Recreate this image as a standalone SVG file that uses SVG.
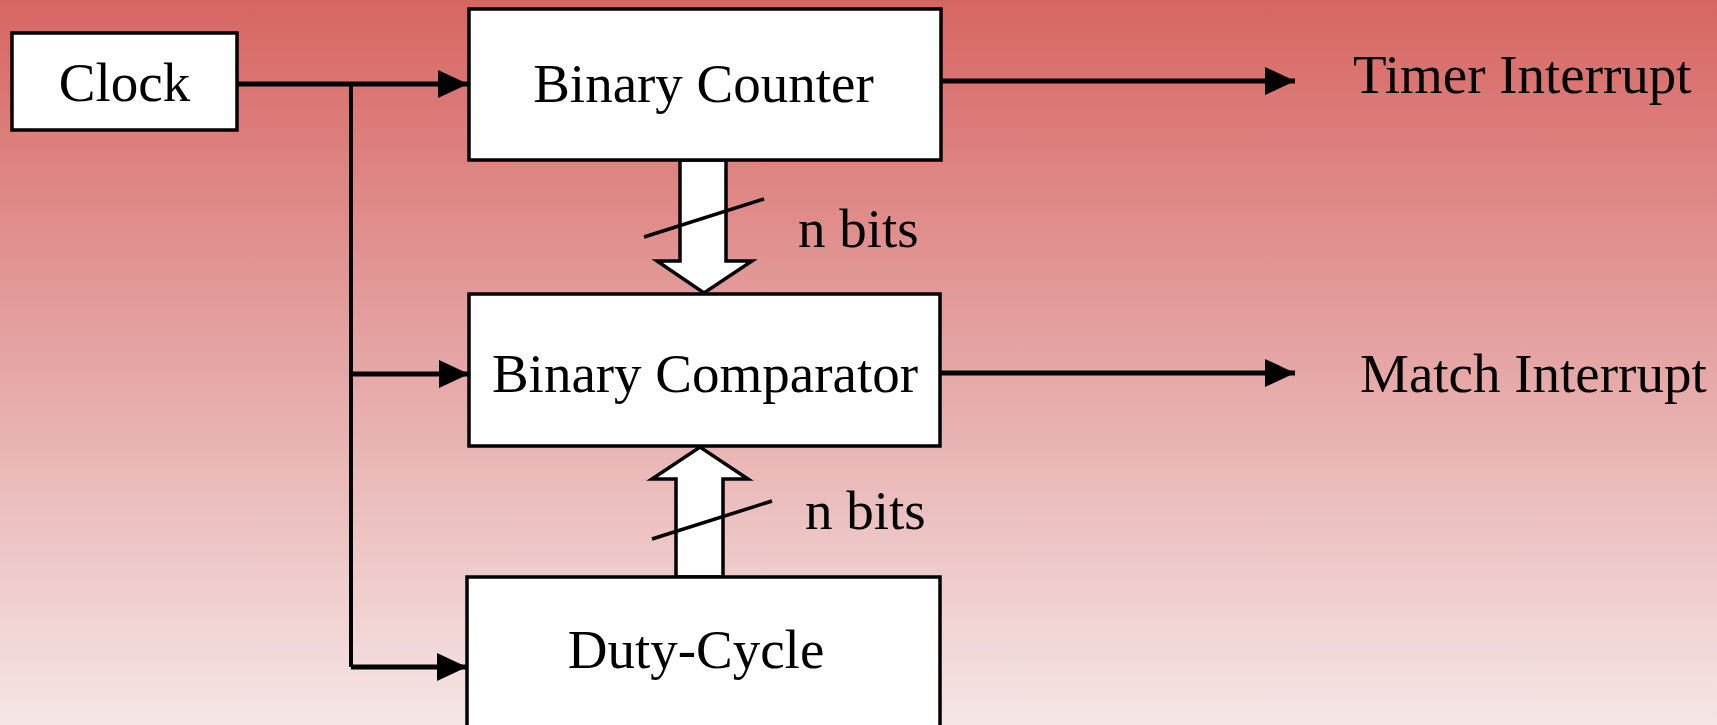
<svg xmlns="http://www.w3.org/2000/svg" width="1717" height="725" viewBox="0 0 1717 725">
  <style>
    .box { fill: #ffffff; stroke: #000000; stroke-width: 3.5; }
    .label { font-family: "Liberation Serif", "Times New Roman", serif; font-size: 55px; fill: #000000; }
    .wire { stroke: #000000; stroke-width: 5; fill: none; }
    .trunk { stroke: #000000; stroke-width: 4; fill: none; }
    .bus { fill: #ffffff; stroke: #000000; stroke-width: 3.5; stroke-linejoin: miter; }
    .slash { stroke: #000000; stroke-width: 3.5; }
  </style>
  <defs>
    <linearGradient id="bg" x1="0" y1="0" x2="0" y2="1">
      <stop offset="0" stop-color="#d76662"/>
      <stop offset="0.5" stop-color="#e5a6a5"/>
      <stop offset="1" stop-color="#f6e6e6"/>
    </linearGradient>
    <marker id="head" viewBox="0 0 30 28" refX="30" refY="14" markerWidth="30" markerHeight="29" markerUnits="userSpaceOnUse" orient="auto">
      <path d="M0,0 L30,14 L0,28 Z" fill="#000000"/>
    </marker>
  </defs>

  <rect x="0" y="0" width="1717" height="725" fill="url(#bg)"/>

  <!-- connectors -->
  <g id="connectors">
    <line class="trunk" x1="351" y1="84" x2="351" y2="667"/>
    <line class="wire" x1="237" y1="84" x2="468" y2="84" marker-end="url(#head)"/>
    <line class="wire" x1="351" y1="374" x2="469" y2="374" marker-end="url(#head)"/>
    <line class="wire" x1="351" y1="667" x2="467" y2="667" marker-end="url(#head)"/>
    <line class="wire" x1="941" y1="81" x2="1295" y2="81" marker-end="url(#head)"/>
    <line class="wire" x1="941" y1="373" x2="1295" y2="373" marker-end="url(#head)"/>

    <!-- counter to comparator bus -->
    <polygon class="bus" points="680,160 726,160 726,261 752,261 704,293 657,261 680,261"/>
    <line class="slash" x1="644" y1="237" x2="764" y2="199"/>
    <text class="label" x="798" y="247">n bits</text>

    <!-- duty-cycle to comparator bus -->
    <polygon class="bus" points="676,577 723,577 723,479 748,479 700,447 652,479 676,479"/>
    <line class="slash" x1="652" y1="539" x2="772" y2="501"/>
    <text class="label" x="805" y="529">n bits</text>

    <text class="label" x="1353" y="93">Timer Interrupt</text>
    <text class="label" x="1360" y="392">Match Interrupt</text>
  </g>

  <g id="clock">
    <rect class="box" x="12" y="33" width="225" height="97"/>
    <text class="label" x="124.5" y="101" text-anchor="middle">Clock</text>
  </g>

  <g id="binary-counter">
    <rect class="box" x="469" y="9" width="472" height="151"/>
    <text class="label" x="703.5" y="102" text-anchor="middle">Binary Counter</text>
  </g>

  <g id="binary-comparator">
    <rect class="box" x="469" y="294" width="471" height="152"/>
    <text class="label" x="705" y="392" text-anchor="middle">Binary Comparator</text>
  </g>

  <g id="duty-cycle">
    <rect class="box" x="467" y="577" width="473" height="160"/>
    <text class="label" x="696" y="668" text-anchor="middle">Duty-Cycle</text>
  </g>
</svg>
